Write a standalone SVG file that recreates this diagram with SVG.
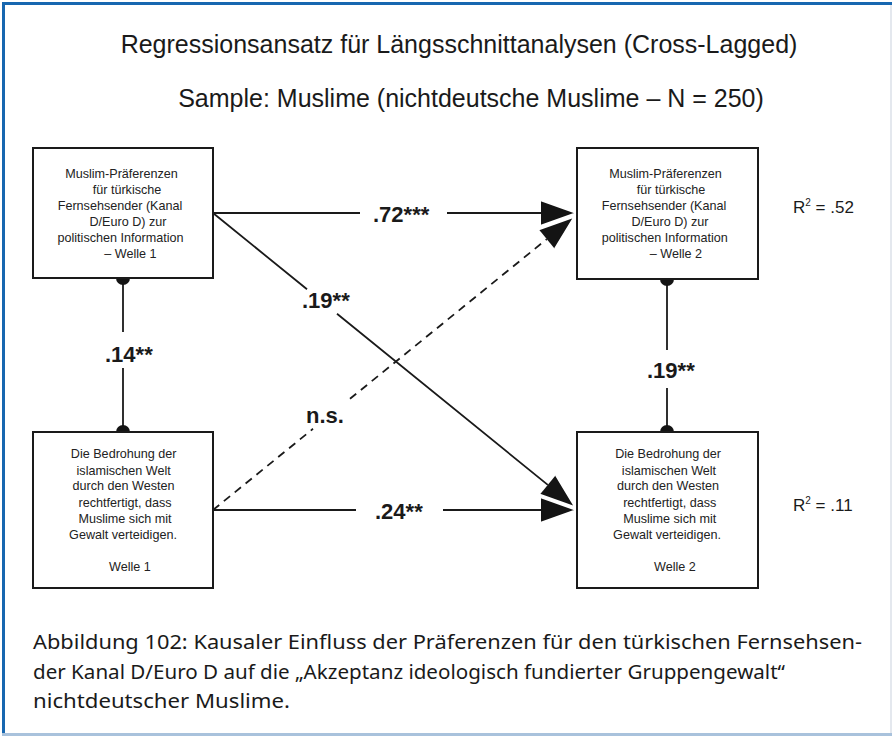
<svg xmlns="http://www.w3.org/2000/svg" width="892" height="736" viewBox="0 0 892 736">
  <style>
    .frame { fill: #1767b0; }
    .box { fill: #ffffff; stroke: #1a1a1a; stroke-width: 2; }
    .bt { font-family: "Liberation Sans", Arial, sans-serif; font-size: 12.6px; fill: #222; text-anchor: middle; }
    .title { font-family: "Liberation Sans", Arial, sans-serif; font-size: 25px; fill: #1a1a1a; text-anchor: middle; }
    .lbl { font-family: "Liberation Sans", Arial, sans-serif; font-size: 22px; font-weight: bold; fill: #1a1a1a; }
    .r2 { font-family: "Liberation Sans", Arial, sans-serif; font-size: 17px; fill: #1a1a1a; }
    .cap { font-family: "Noto Sans", "Open Sans", sans-serif; font-size: 20.5px; fill: #1a1a1a; }
    .conn { fill: none; stroke: #1a1a1a; stroke-width: 1.8; }
    .dash { stroke-dasharray: 8 6; }
  </style>
  <defs>
    <marker id="head" markerUnits="userSpaceOnUse" markerWidth="40" markerHeight="30" viewBox="0 0 40 30" refX="2" refY="13" orient="auto" overflow="visible">
      <path d="M2,0.5 L37,13 L2,25.5" fill="#141414" stroke="#ffffff" stroke-width="1.6" stroke-linejoin="miter"/>
    </marker>
  </defs>

  <rect x="0" y="0" width="892" height="736" fill="#ffffff"/>
  <!-- frame -->
  <rect class="frame" x="2" y="2" width="890" height="3"/>
  <rect class="frame" x="2" y="2" width="3" height="733"/>
  <rect x="890" y="5" width="2" height="730" fill="#e4e8ee"/>
  <rect x="2" y="733" width="890" height="3" fill="#a9c2dc"/>

  <text class="title" x="459" y="53">Regressionsansatz für Längsschnittanalysen (Cross-Lagged)</text>
  <text class="title" x="471" y="107">Sample: Muslime (nichtdeutsche Muslime – N = 250)</text>

  <!-- connectors -->
  <g id="connectors">
    <path class="conn" d="M123,278 V332 M123,368 V432"/>
    <path class="conn" d="M667,279 V350 M667,388 V432"/>
    <path class="conn" d="M213,213 H360 M447,213 H541" marker-end="url(#head)"/>
    <path class="conn dash" d="M213,510 L313,428.8 M350,398.8 L546.8,239.1" marker-end="url(#head)"/>
    <path class="conn" d="M213,213 L307,289.3 M337,313.7 L547.8,484.9" marker-end="url(#head)"/>
    <path class="conn" d="M213,510 H356 M443,510 H541" marker-end="url(#head)"/>
    <circle cx="123" cy="278" r="7" fill="#141414"/>
    <circle cx="123" cy="432" r="7" fill="#141414"/>
    <circle cx="667" cy="279" r="7" fill="#141414"/>
    <circle cx="667" cy="432" r="7" fill="#141414"/>
    <text class="lbl" x="373" y="222">.72***</text>
    <text class="lbl" x="302" y="308">.19**</text>
    <text class="lbl" x="306" y="423">n.s.</text>
    <text class="lbl" x="375" y="519">.24**</text>
    <text class="lbl" x="105" y="362">.14**</text>
    <text class="lbl" x="647" y="378">.19**</text>
  </g>

  <g id="n-tl">
    <rect class="box" x="33" y="148" width="180" height="130"/>
    <text class="bt" x="121.5" y="178">Muslim-Präferenzen</text>
    <text class="bt" x="127" y="193.5">für türkische</text>
    <text class="bt" x="120" y="210">Fernsehsender (Kanal</text>
    <text class="bt" x="128" y="226">D/Euro D) zur</text>
    <text class="bt" x="120.5" y="242">politischen Information</text>
    <text class="bt" x="130.5" y="257.5">– Welle 1</text>
  </g>

  <g id="n-tr">
    <rect class="box" x="577" y="148" width="181" height="131"/>
    <text class="bt" x="665.5" y="178">Muslim-Präferenzen</text>
    <text class="bt" x="671" y="193.5">für türkische</text>
    <text class="bt" x="664" y="210">Fernsehsender (Kanal</text>
    <text class="bt" x="670" y="226">D/Euro D) zur</text>
    <text class="bt" x="664.7" y="242">politischen Information</text>
    <text class="bt" x="676" y="257.5">– Welle 2</text>
  </g>
  <text class="r2" x="793" y="213">R<tspan font-size="10" dy="-7">2</tspan><tspan dy="7"> = .52</tspan></text>

  <g id="n-bl">
    <rect class="box" x="33" y="432" width="180" height="156"/>
    <text class="bt" x="123.7" y="457.5">Die Bedrohung der</text>
    <text class="bt" x="123.7" y="475">islamischen Welt</text>
    <text class="bt" x="123.5" y="490">durch den Westen</text>
    <text class="bt" x="125" y="506.5">rechtfertigt, dass</text>
    <text class="bt" x="125" y="522.5">Muslime sich mit</text>
    <text class="bt" x="123" y="539">Gewalt verteidigen.</text>
    <text class="bt" x="130" y="571">Welle 1</text>
  </g>

  <g id="n-br">
    <rect class="box" x="577" y="432" width="181" height="156"/>
    <text class="bt" x="668" y="457.5">Die Bedrohung der</text>
    <text class="bt" x="669" y="475">islamischen Welt</text>
    <text class="bt" x="668" y="490">durch den Westen</text>
    <text class="bt" x="669.7" y="506.5">rechtfertigt, dass</text>
    <text class="bt" x="669.7" y="522.5">Muslime sich mit</text>
    <text class="bt" x="667" y="539">Gewalt verteidigen.</text>
    <text class="bt" x="675" y="571">Welle 2</text>
  </g>
  <text class="r2" x="793" y="511">R<tspan font-size="10" dy="-7">2</tspan><tspan dy="7"> = .11</tspan></text>

  <text class="cap" x="33" y="649" textLength="829" lengthAdjust="spacingAndGlyphs">Abbildung 102: Kausaler Einfluss der Präferenzen für den türkischen Fernsehsen-</text>
  <text class="cap" x="33" y="679" textLength="752" lengthAdjust="spacingAndGlyphs">der Kanal D/Euro D auf die „Akzeptanz ideologisch fundierter Gruppengewalt“</text>
  <text class="cap" x="33" y="708" textLength="257" lengthAdjust="spacingAndGlyphs">nichtdeutscher Muslime.</text>
</svg>
